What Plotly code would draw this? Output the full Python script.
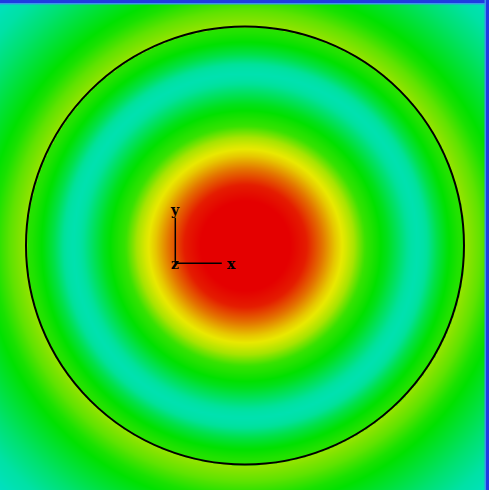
import numpy as np
import plotly.graph_objects as go

# ---- data (radial profile of the field, in colour-level units) ----
inner_r = [0, 45, 60, 75, 90, 100, 110, 120, 132, 142, 152, 162, 172, 182, 192, 202, 212, 218]
inner_v = [1.05, 1.0, 0.93, 0.82, 0.70, 0.64, 0.56, 0.49, 0.46, 0.43, 0.385, 0.34, 0.315, 0.34, 0.40, 0.445, 0.47, 0.48]
outer_r = [219, 235, 250, 270, 300, 330, 350]
outer_v = [0.56, 0.52, 0.47, 0.43, 0.37, 0.32, 0.28]

# colour scale (level -> colour)
cs_levels = [0.0, 0.15, 0.27, 0.33, 0.40, 0.45, 0.57, 0.66, 0.80, 0.92, 1.0]
cs_colors = ["rgb(20,40,230)", "rgb(0,150,230)", "rgb(0,224,205)", "rgb(0,225,165)",
             "rgb(0,225,70)", "rgb(0,225,0)", "rgb(165,228,0)", "rgb(232,232,0)",
             "rgb(228,120,0)", "rgb(228,30,0)", "rgb(228,0,0)"]

W, H = 489, 490
CX, CY, R = 245.0, 245.5, 219.0
TRIAD_O = (175.3, 263.3)
TRIAD_LEN = (46.5, 45.5)

# ---- grid ----
xs = np.arange(0, W + 2, 2.0)
ys = np.arange(0, H + 2, 2.0)
X, Y = np.meshgrid(xs, ys)
Rr = np.hypot(X - CX, Y - CY)
Z = np.where(Rr <= R, np.interp(Rr, inner_r, inner_v), np.interp(Rr, outer_r, outer_v))

fig = go.Figure(go.Heatmap(
    x=xs, y=ys, z=Z, zmin=0, zmax=1, zsmooth="best",
    colorscale=[[l, c] for l, c in zip(cs_levels, cs_colors)],
    showscale=False, hoverinfo="skip"))

shapes = [
    dict(type="circle", xref="x", yref="y", x0=CX - R, x1=CX + R, y0=CY - R, y1=CY + R,
         line=dict(color="black", width=2)),
    dict(type="line", x0=TRIAD_O[0], y0=TRIAD_O[1], x1=TRIAD_O[0], y1=TRIAD_O[1] - TRIAD_LEN[1],
         line=dict(color="black", width=1.5)),
    dict(type="line", x0=TRIAD_O[0], y0=TRIAD_O[1], x1=TRIAD_O[0] + TRIAD_LEN[0], y1=TRIAD_O[1],
         line=dict(color="black", width=1.5)),
    # blue frame edges (top and right)
    dict(type="rect", x0=0, x1=W, y0=0, y1=3, fillcolor="rgb(30,60,225)", line=dict(width=0)),
    dict(type="rect", x0=0, x1=W, y0=3, y1=4.5, fillcolor="rgb(60,150,235)", line=dict(width=0)),
    dict(type="rect", x0=W - 3, x1=W, y0=0, y1=H, fillcolor="rgb(30,60,225)", line=dict(width=0)),
    dict(type="rect", x0=W - 4.5, x1=W - 3, y0=0, y1=H, fillcolor="rgb(60,150,235)", line=dict(width=0)),
]

font = dict(family="DejaVu Serif", size=14, color="black")
annotations = [
    dict(x=TRIAD_O[0], y=TRIAD_O[1] - 53, text="<b>y</b>", showarrow=False, font=font),
    dict(x=TRIAD_O[0], y=TRIAD_O[1] + 1, text="<b>z</b>", showarrow=False, font=font),
    dict(x=TRIAD_O[0] + 56, y=TRIAD_O[1] + 1, text="<b>x</b>", showarrow=False, font=font),
]

fig.update_layout(
    width=W, height=H, margin=dict(l=0, r=0, t=0, b=0),
    paper_bgcolor="white", plot_bgcolor="white",
    xaxis=dict(range=[0, W], visible=False, fixedrange=True),
    yaxis=dict(range=[H, 0], visible=False, fixedrange=True),
    shapes=shapes, annotations=annotations, showlegend=False)

fig.write_html("out.html")
